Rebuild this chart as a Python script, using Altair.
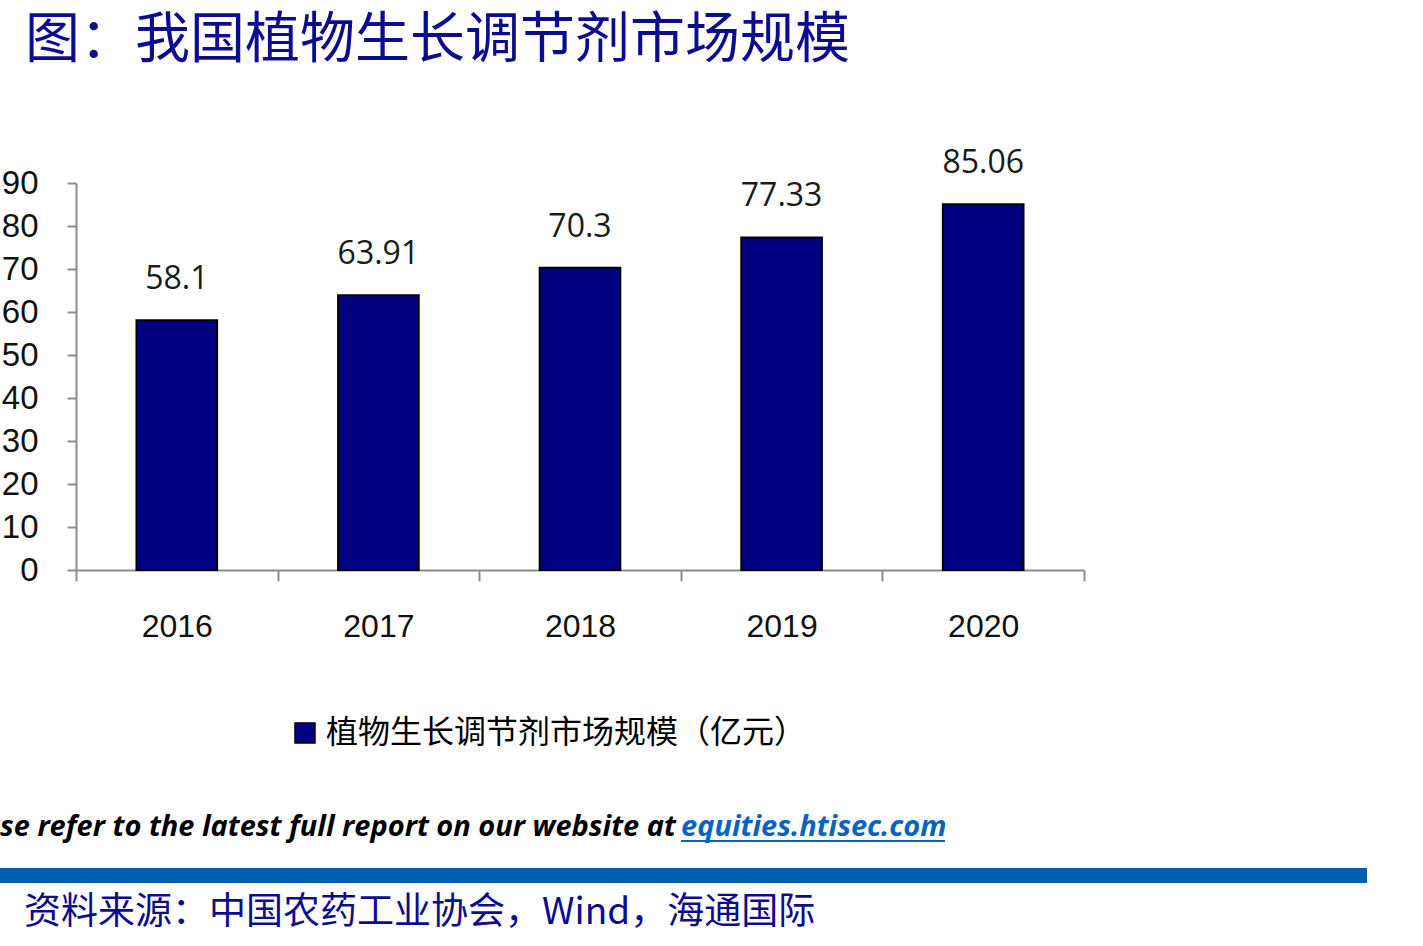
import altair as alt
import pandas as pd

# Market size of plant growth regulators in China (100 million yuan)
years = ["2016", "2017", "2018", "2019", "2020"]
values = [58.1, 63.91, 70.3, 77.33, 85.06]
series_name = "植物生长调节剂市场规模（亿元）"
y_ticks = [0, 10, 20, 30, 40, 50, 60, 70, 80, 90]

title_text = "图：我国植物生长调节剂市场规模"
source_text = "资料来源：中国农药工业协会，Wind，海通国际"
notice_text = "se refer to the latest full report on our website at "
link_text = "equities.htisec.com"

NAVY = "#000080"
TEXT_BLUE = "#0c0c8e"
BAND_BLUE = "#005dab"
LINK_BLUE = "#0563c1"
AXIS_GREY = "#8c8c8c"

df = pd.DataFrame({
    "year": years,
    "value": values,
    "label": [str(v) for v in values],
    "series": [series_name] * len(years),
})
one = pd.DataFrame({"k": [0]})

# Plot origin sits at (76, 183) of the page; plot area 1008 x 387
W, H = 1008, 387
OX, OY = 76, 183

x_enc = alt.X(
    "year:N",
    sort=years,
    scale=alt.Scale(paddingInner=0, paddingOuter=0),
    axis=alt.Axis(
        title=None, tickBand="extent", labelAngle=0,
        domainColor=AXIS_GREY, domainWidth=2, tickColor=AXIS_GREY, tickWidth=2,
        tickSize=11, labelFont="Liberation Sans", labelFontSize=32,
        labelColor="#111111", labelPadding=30,
    ),
)
y_enc = alt.Y(
    "value:Q",
    scale=alt.Scale(domain=[0, 90], nice=False),
    axis=alt.Axis(
        title=None, values=y_ticks, grid=False,
        domainColor=AXIS_GREY, domainWidth=2, tickColor=AXIS_GREY, tickWidth=2,
        tickSize=9, labelFont="Liberation Sans", labelFontSize=33,
        labelColor="#111111", labelPadding=29,
    ),
)

bars = alt.Chart(df).mark_bar(
    stroke="black", strokeWidth=2, width=alt.RelativeBandSize(0.4)
).encode(
    x=x_enc,
    y=y_enc,
    color=alt.Color(
        "series:N",
        scale=alt.Scale(range=[NAVY]),
        legend=alt.Legend(
            orient="none", legendX=213, legendY=534, title=None, padding=0,
            symbolType="square", symbolSize=400, symbolFillColor=NAVY,
            symbolStrokeColor="black", symbolStrokeWidth=1.5, symbolOffset=0,
            labelFont="Noto Sans CJK SC", labelFontSize=32, labelColor="black",
            labelLimit=0, labelOffset=5,
        ),
    ),
)

value_labels = alt.Chart(df).mark_text(
    font="Open Sans", fontSize=32, color="#1a1a1a", baseline="alphabetic", dy=-31
).encode(x=alt.X("year:N", sort=years), y="value:Q", text="label:N")

title = alt.Chart(one).mark_text(
    font="Noto Sans CJK SC", fontSize=55, color=TEXT_BLUE, align="left", baseline="middle"
).encode(x=alt.value(25 - OX), y=alt.value(40 - OY), text=alt.value(title_text))

notice = alt.Chart(one).mark_text(
    font="Open Sans", fontSize=29, fontStyle="italic", fontWeight="bold", color="black",
    align="left", baseline="alphabetic",
).encode(x=alt.value(0 - OX), y=alt.value(836 - OY), text=alt.value(notice_text))

link = alt.Chart(one).mark_text(
    font="Open Sans", fontSize=29, fontStyle="italic", fontWeight="bold", color=LINK_BLUE,
    align="left", baseline="alphabetic",
).encode(x=alt.value(681 - OX), y=alt.value(836 - OY), text=alt.value(link_text))

underline = alt.Chart(one).mark_rule(color=LINK_BLUE, strokeWidth=2).encode(
    x=alt.value(681 - OX), x2=alt.value(945 - OX),
    y=alt.value(841 - OY),
)

band = alt.Chart(one).mark_rect(color=BAND_BLUE).encode(
    x=alt.value(0 - OX), x2=alt.value(1367 - OX),
    y=alt.value(868 - OY), y2=alt.value(883 - OY),
)

source = alt.Chart(one).mark_text(
    font="Noto Sans CJK SC", fontSize=37, color=TEXT_BLUE, align="left", baseline="middle"
).encode(x=alt.value(24 - OX), y=alt.value(913 - OY), text=alt.value(source_text))

chart = alt.layer(
    bars, value_labels, title, notice, link, underline, band, source
).properties(
    width=W, height=H,
    background="white",
    autosize=alt.AutoSizeParams(type="none"),
    padding={"left": OX, "top": OY, "right": 1423 - OX - W, "bottom": 946 - OY - H},
).configure_view(stroke=None)

chart.save("out.html", embed_options={"renderer": "svg", "actions": False})
